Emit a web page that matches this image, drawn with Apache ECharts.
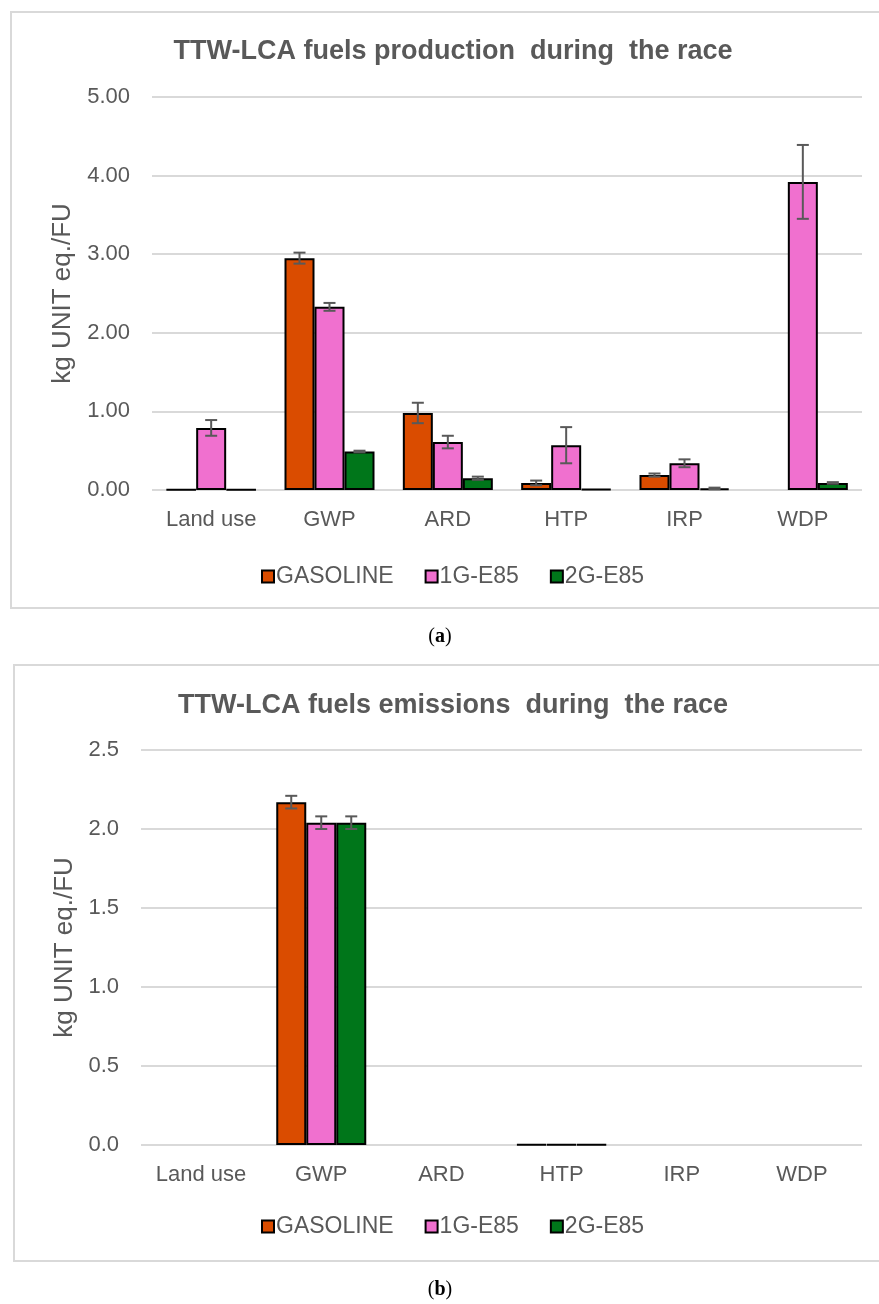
<!DOCTYPE html>
<html>
<head>
<meta charset="utf-8">
<script src="https://cdn.jsdelivr.net/npm/echarts@6/dist/echarts.min.js"></script>
<style>
html,body{margin:0;padding:0;background:#fff;}
#c{width:879px;height:1304px;}
</style>
</head>
<body>
<div id="c"></div>
<script>
// ---- data ----
const categories = ['Land use', 'GWP', 'ARD', 'HTP', 'IRP', 'WDP'];
const seriesNames = ['GASOLINE', '1G-E85', '2G-E85'];

// (a) production
const prodGasoline = [0.005, 2.95, 0.98, 0.09, 0.19, null];
const prod1G       = [0.79, 2.33, 0.61, 0.57, 0.34, 3.92];
const prod2G       = [0.005, 0.49, 0.15, 0.01, 0.02, 0.09];
const prodGasolineErr = [0, 0.07, 0.13, 0.03, 0.02, 0];
const prod1GErr       = [0.10, 0.05, 0.08, 0.23, 0.05, 0.47];
const prod2GErr       = [0, 0.01, 0.02, 0, 0.01, 0.01];

// (b) emissions
const emisGasoline = [null, 2.17, null, 0.004, null, null];
const emis1G       = [null, 2.04, null, 0.004, null, null];
const emis2G       = [null, 2.04, null, 0.004, null, null];
const emisGasolineErr = [0, 0.04, 0, 0, 0, 0];
const emis1GErr       = [0, 0.04, 0, 0, 0, 0];
const emis2GErr       = [0, 0.04, 0, 0, 0, 0];

const prodTicks = { min: 0, max: 5, interval: 1, decimals: 2 };
const emisTicks = { min: 0, max: 2.5, interval: 0.5, decimals: 1 };

const titleA = 'TTW-LCA fuels production  during  the race';
const titleB = 'TTW-LCA fuels emissions  during  the race';
const yName = 'kg UNIT eq./FU';

// ---- styles ----
const colors = ['#DA4C00', '#F070CF', '#00761A'];
const grey = '#595959';
const gridGrey = '#D9D9D9';
const BAR_W = 30;
const FONT = 'Liberation Sans, Arial, sans-serif';

const chart = echarts.init(document.getElementById('c'), null, { renderer: 'canvas' });

function makeAxes(gridIdx, ticks, nameGap) {
  return {
    x: {
      type: 'category', gridIndex: gridIdx, data: categories,
      axisLine: { show: false }, axisTick: { show: false },
      axisLabel: { color: grey, fontSize: 22, fontFamily: FONT, margin: 19 },
      splitLine: { show: false }
    },
    y: {
      type: 'value', gridIndex: gridIdx, min: ticks.min, max: ticks.max, interval: ticks.interval,
      name: yName, nameLocation: 'middle', nameGap: nameGap, nameRotate: 90,
      nameTextStyle: { color: grey, fontSize: 26, fontFamily: FONT },
      axisLine: { show: false }, axisTick: { show: false },
      axisLabel: { color: grey, fontSize: 22, fontFamily: FONT, margin: 22,
        formatter: v => v.toFixed(ticks.decimals) },
      splitLine: { show: true, lineStyle: { color: gridGrey, width: 2 } }
    }
  };
}

function barSeries(name, idx, data, gridIdx) {
  return {
    type: 'bar', name: name, xAxisIndex: gridIdx, yAxisIndex: gridIdx,
    data: data, barWidth: BAR_W, barGap: '0%',
    itemStyle: { color: colors[idx], borderColor: '#000', borderWidth: 2 },
    emphasis: { disabled: true }, z: 2
  };
}

function errSeries(idx, vals, errs, gridIdx) {
  const data = vals.map((v, i) => [i, v == null ? 0 : v, errs[i]]);
  return {
    type: 'custom', xAxisIndex: gridIdx, yAxisIndex: gridIdx, z: 5, silent: true,
    data: data, encode: { x: 0, y: 1 },
    renderItem: function (params, api) {
      const e = api.value(2);
      if (!e) return null;
      const c = api.value(0), v = api.value(1);
      const top = api.coord([c, v + e]);
      const bot = api.coord([c, v - e]);
      const x = top[0] + (idx - 1) * BAR_W;
      const cap = 6;
      const st = { stroke: grey, lineWidth: 2 };
      return {
        type: 'group',
        children: [
          { type: 'line', shape: { x1: x, y1: top[1], x2: x, y2: bot[1] }, style: st },
          { type: 'line', shape: { x1: x - cap, y1: top[1], x2: x + cap, y2: top[1] }, style: st },
          { type: 'line', shape: { x1: x - cap, y1: bot[1], x2: x + cap, y2: bot[1] }, style: st }
        ]
      };
    }
  };
}

const axA = makeAxes(0, prodTicks, 76);
const axB = makeAxes(1, emisTicks, 62);

const legendBase = {
  data: seriesNames, icon: 'rect', itemWidth: 12, itemHeight: 12, itemGap: 31,
  textStyle: { color: grey, fontSize: 23, fontFamily: FONT, padding: [0, 0, 0, -3] },
  selectedMode: false,
  itemStyle: { borderColor: '#000', borderWidth: 2 }
};

const option = {
  animation: false,
  backgroundColor: '#fff',
  grid: [
    { left: 152, top: 97, width: 710, height: 393 },
    { left: 141, top: 750, width: 721, height: 395 }
  ],
  xAxis: [axA.x, axB.x],
  yAxis: [axA.y, axB.y],
  legend: [
    Object.assign({}, legendBase, { left: 256, top: 560 }),
    Object.assign({}, legendBase, { left: 256, top: 1210 })
  ],
  graphic: [
    { type: 'rect', shape: { x: 11, y: 12, width: 885, height: 596 }, style: { fill: 'none', stroke: gridGrey, lineWidth: 2 }, z: -1 },
    { type: 'rect', shape: { x: 14, y: 665, width: 885, height: 596 }, style: { fill: 'none', stroke: gridGrey, lineWidth: 2 }, z: -1 },
    { type: 'text', x: 453, y: 52, style: { text: titleA, font: 'bold 27px ' + FONT, fill: grey, textAlign: 'center', textVerticalAlign: 'middle' } },
    { type: 'text', x: 453, y: 706, style: { text: titleB, font: 'bold 27px ' + FONT, fill: grey, textAlign: 'center', textVerticalAlign: 'middle' } },
    { type: 'text', x: 440, y: 637, style: { text: '{n|(}{b|a}{n|)}', textAlign: 'center', textVerticalAlign: 'middle',
        rich: { n: { font: '20px Liberation Serif, serif', fill: '#000' }, b: { font: 'bold 20px Liberation Serif, serif', fill: '#000' } } } },
    { type: 'text', x: 440, y: 1290, style: { text: '{n|(}{b|b}{n|)}', textAlign: 'center', textVerticalAlign: 'middle',
        rich: { n: { font: '20px Liberation Serif, serif', fill: '#000' }, b: { font: 'bold 20px Liberation Serif, serif', fill: '#000' } } } }
  ],
  series: [
    barSeries(seriesNames[0], 0, prodGasoline, 0),
    barSeries(seriesNames[1], 1, prod1G, 0),
    barSeries(seriesNames[2], 2, prod2G, 0),
    barSeries(seriesNames[0], 0, emisGasoline, 1),
    barSeries(seriesNames[1], 1, emis1G, 1),
    barSeries(seriesNames[2], 2, emis2G, 1),
    errSeries(0, prodGasoline, prodGasolineErr, 0),
    errSeries(1, prod1G, prod1GErr, 0),
    errSeries(2, prod2G, prod2GErr, 0),
    errSeries(0, emisGasoline, emisGasolineErr, 1),
    errSeries(1, emis1G, emis1GErr, 1),
    errSeries(2, emis2G, emis2GErr, 1)
  ]
};
chart.setOption(option);
</script>
</body>
</html>
